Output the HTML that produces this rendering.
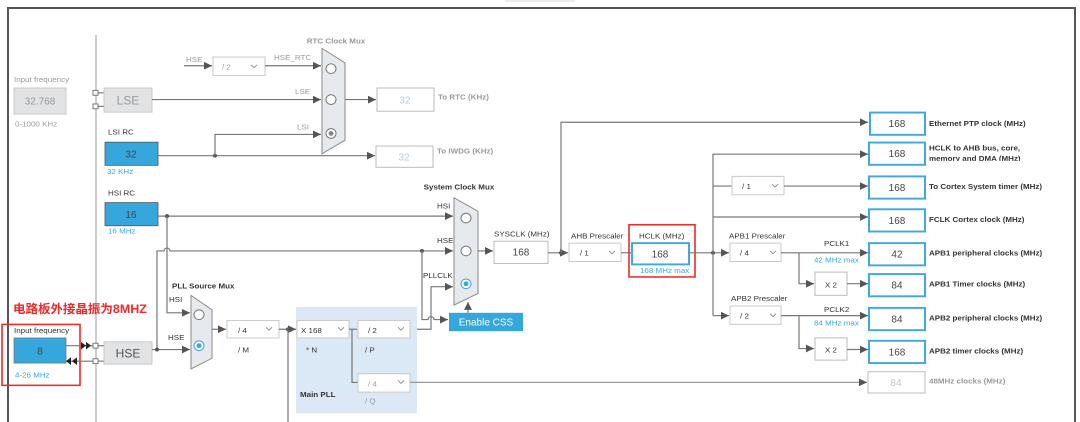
<!DOCTYPE html>
<html><head><meta charset="utf-8"><style>
html,body{margin:0;padding:0;background:#fff;}
svg{display:block;font-family:"Liberation Sans","Noto Sans CJK SC",sans-serif;}
.t{font-size:8px;fill:#333;}
.b{font-size:8px;fill:#333;font-weight:bold;}
.g{font-size:8px;fill:#999;}
.gb{font-size:8px;fill:#999;font-weight:bold;}
.bl{font-size:8px;fill:#3aa6dd;}
.v{font-size:10px;fill:#444;text-anchor:middle;}
.vf{font-size:10px;fill:#b8c8d8;text-anchor:middle;}
.l{stroke:#777;stroke-width:1.2;fill:none;}
.box{fill:#fff;stroke:#bbb;stroke-width:1;}
.ob{fill:#fff;stroke:#3fa9dd;stroke-width:2;}
.dd{fill:#fff;stroke:#c8c8c8;stroke-width:1;}
.mux{fill:#e6eaee;stroke:#888;stroke-width:1;}
.c{fill:#fff;stroke:#777;stroke-width:1;}
.ch{fill:none;stroke:#888;stroke-width:0.9;}
</style></head><body>
<svg width="1080" height="422" viewBox="0 0 1080 422" xmlns="http://www.w3.org/2000/svg">
<defs>
<marker id="a" markerWidth="8" markerHeight="8" refX="8" refY="4" orient="auto" markerUnits="userSpaceOnUse"><path d="M0,0 L8,4 L0,8 z" fill="#555"/></marker>
</defs>
<rect x="505" y="0" width="70" height="2" fill="#e8ecef"/>
<path d="M8,422 L8,8 L1075,8 L1075,422" fill="none" stroke="#555" stroke-width="2"/>
<line x1="96" y1="35" x2="96" y2="422" stroke="#999" stroke-width="1"/>

<g transform="matrix(1,0,0,0.967,0,0)">
<text class="gb" x="336" y="45" text-anchor="middle">RTC Clock Mux</text>
<text class="g" x="186" y="64">HSE</text>
<line class="l" x1="184" y1="68" x2="212" y2="68" marker-end="url(#a)"/>
<rect class="dd" x="213" y="59" width="52" height="19"/>
<text class="g" x="222" y="72" font-size="10">/ 2</text>
<path class="ch" d="M251,67 l3,3 l3,-3"/>
<text class="g" x="274" y="62">HSE_RTC</text>
<line class="l" x1="265" y1="68" x2="321" y2="68" marker-end="url(#a)"/>
<polygon class="mux" points="322,50 345,65 345,145 322,159"/>
<circle class="c" cx="331" cy="71" r="5"/><circle class="c" cx="331" cy="103" r="5"/><circle class="c" cx="331" cy="138" r="5"/><circle cx="331" cy="138" r="2.5" fill="#888"/>
<text class="g" x="14" y="85">Input frequency</text>
<rect x="14" y="91" width="52" height="27" fill="#e1e3e5" stroke="#c8c8c8"/>
<text class="v" x="40" y="108" style="fill:#999">32.768</text>
<text class="g" x="15" y="131">0-1000 KHz</text>
<rect x="93" y="93.5" width="5" height="5" fill="#fff" stroke="#777"/>
<rect x="93" y="107.5" width="5" height="5" fill="#fff" stroke="#777"/>
<line class="l" x1="98" y1="96" x2="104" y2="96"/><line class="l" x1="98" y1="110" x2="104" y2="110"/>
<rect x="104" y="91" width="48" height="25" fill="#e1e3e5" stroke="#c8c8c8"/>
<text x="128" y="108" font-size="12" fill="#999" text-anchor="middle">LSE</text>
<line class="l" x1="152" y1="103" x2="321" y2="103" marker-end="url(#a)"/>
<text class="g" x="295" y="97">LSE</text>
<line class="l" x1="345" y1="103" x2="376" y2="103" marker-end="url(#a)"/>
<rect class="box" x="377" y="91" width="57" height="24"/>
<text class="vf" x="405" y="107">32</text>
<text class="gb" x="438" y="103">To RTC (KHz)</text>
<text class="t" x="108" y="139">LSI RC</text>
<rect x="105" y="147" width="53" height="24" fill="#35a7dc" stroke="#555" stroke-width="0.8"/>
<text class="v" x="131" y="163">32</text>
<text class="bl" x="107" y="180">32 KHz</text>
<line class="l" x1="158" y1="161" x2="375" y2="161" marker-end="url(#a)"/>
<circle cx="215" cy="161" r="2" fill="#555"/>
<path class="l" d="M215,161 L215,139 L321,139" marker-end="url(#a)"/>
<text class="g" x="297" y="134">LSI</text>
<rect class="box" x="376" y="151" width="57" height="22"/>
<text class="vf" x="404" y="166">32</text>
<text class="gb" x="437" y="159">To IWDG (KHz)</text>
<text class="b" x="459" y="196" text-anchor="middle">System Clock Mux</text>
<text class="t" x="108" y="202">HSI RC</text>
</g>

<g transform="matrix(1,0,0,0.967,0,6.27)">
<rect x="105" y="203" width="53" height="24" fill="#35a7dc" stroke="#555" stroke-width="0.8"/>
<text class="v" x="131" y="219">16</text>
<text class="bl" x="108" y="235">16 MHz</text>
<line class="l" x1="158" y1="217" x2="453" y2="217" marker-end="url(#a)"/>
<circle cx="167" cy="217" r="2" fill="#555"/>
<text class="t" x="437" y="209">HSI</text>
<path class="l" d="M167,217 L167,317 L190,317" marker-end="url(#a)"/>
<text class="t" x="169" y="306">HSI</text>
<path class="l" d="M157,355 L157,253 L164,253 A3,3 0 0 1 170,253 L453,253" marker-end="url(#a)"/>
<text class="t" x="437" y="245">HSE</text>
<circle cx="422" cy="253" r="2" fill="#555"/>
<path class="l" d="M422,253 L422,324 L428,324 A3,3 0 0 1 434,324 L448,324" marker-end="url(#a)"/>
<path class="l" d="M410,334 L431,334 L431,290 L453,290" marker-end="url(#a)"/>
<text class="t" x="423" y="281">PLLCLK</text>
<polygon class="mux" points="454,198 478,212 478,297 454,309"/>
<circle class="c" cx="466" cy="219" r="5"/><circle class="c" cx="466" cy="253" r="5"/>
<circle cx="466" cy="287" r="5" fill="#fff" stroke="#3aa6dd"/><circle cx="466" cy="287" r="2.5" fill="#3aa6dd"/>
<rect x="449" y="317" width="74" height="19" fill="#35a7dc"/>
<text x="486" y="330" font-size="10" fill="#fff" text-anchor="middle">Enable CSS</text>
<line class="l" x1="468" y1="317" x2="468" y2="306" marker-end="url(#a)"/>
<line class="l" x1="478" y1="253" x2="493" y2="253" marker-end="url(#a)"/>
<text class="t" x="494" y="238">SYSCLK (MHz)</text>
<rect class="box" x="494" y="243" width="54" height="23"/>
<text class="v" x="521" y="258">168</text>

<text x="13" y="317" font-size="12.5" font-weight="bold" fill="#ee2a2a" font-family="'Liberation Sans','Noto Sans CJK SC',sans-serif">电路板外接晶振为8MHZ</text>
<rect x="2" y="329" width="78" height="63" fill="none" stroke="#ee2a2a" stroke-width="1.6"/>
<text class="t" x="14" y="338">Input frequency</text>
<rect x="14" y="343" width="52" height="26" fill="#35a7dc" stroke="#777" stroke-width="0.8"/>
<text class="v" x="40" y="360">8</text>
<text class="bl" x="15" y="384">4-26 MHz</text>
<line class="l" x1="66" y1="351" x2="93" y2="351"/>
<path d="M81,347 l5,4 l-5,4z M86,347 l5,4 l-5,4z" fill="#222"/>
<line class="l" x1="66" y1="367" x2="93" y2="367"/>
<path d="M71,363 l-5,4 l5,4z M77,363 l-5,4 l5,4z" fill="#222"/>
<rect x="93" y="348.5" width="5" height="5" fill="#fff" stroke="#777"/>
<rect x="93" y="364.5" width="5" height="5" fill="#fff" stroke="#777"/>
<line class="l" x1="98" y1="351" x2="104" y2="351"/><line class="l" x1="98" y1="367" x2="104" y2="367"/>
<rect x="104" y="347" width="48" height="23" fill="#e1e3e5" stroke="#c8c8c8"/>
<text x="128" y="363" font-size="12" fill="#555" text-anchor="middle">HSE</text>
<line class="l" x1="152" y1="355" x2="190" y2="355" marker-end="url(#a)"/>
<circle cx="157" cy="355" r="2" fill="#555"/>
<text class="t" x="168" y="345">HSE</text>
<text class="b" x="172" y="292">PLL Source Mux</text>
<polygon class="mux" points="191,299 212,314 212,364 191,375"/>
<circle class="c" cx="199" cy="319" r="5"/>
<circle cx="199" cy="351" r="5" fill="#fff" stroke="#3aa6dd"/><circle cx="199" cy="351" r="2.5" fill="#3aa6dd"/>
<line class="l" x1="212" y1="334" x2="226" y2="334" marker-end="url(#a)"/>
<rect x="296" y="311" width="121" height="110" fill="#dbe8f5"/>
<rect class="dd" x="227" y="325" width="52" height="18"/>
<text class="t" x="238" y="338" font-size="10">/ 4</text><path class="ch" d="M266,332 l3,3 l3,-3"/>
<text class="t" x="238" y="358">/ M</text>
<line class="l" x1="279" y1="334" x2="296" y2="334" marker-end="url(#a)"/>
<circle cx="288" cy="334" r="2" fill="#555"/>
<line class="l" x1="288" y1="334" x2="288" y2="430"/>
<rect class="dd" x="297" y="325" width="52" height="18"/>
<text class="t" x="301" y="338" font-size="10">X 168</text><path class="ch" d="M338,332 l3,3 l3,-3"/>
<text class="t" x="306" y="358">* N</text>
<line class="l" x1="349" y1="334" x2="357" y2="334"/>
<rect class="dd" x="358" y="325" width="52" height="18"/>
<text class="t" x="368" y="338" font-size="10">/ 2</text><path class="ch" d="M398,332 l3,3 l3,-3"/>
<text class="t" x="365" y="358">/ P</text>
<path class="l" d="M352,334 L352,389 L358,389"/>
<rect class="dd" x="358" y="380" width="52" height="19"/>
<text class="g" x="368" y="393" font-size="10">/ 4</text><path class="ch" d="M398,387 l3,3 l3,-3"/>
<text class="g" x="365" y="411">/ Q</text>
<text class="b" x="300" y="404">Main PLL</text>
</g>

<g transform="matrix(1,0,0,0.967,0,3.3)">
<line class="l" x1="410" y1="392" x2="867" y2="392" marker-end="url(#a)" style="stroke:#999"/>
<rect class="box" x="868" y="381" width="57" height="22"/>
<text class="vf" x="896" y="396">84</text>
<text class="gb" x="929" y="393">48MHz clocks (MHz)</text>
<line class="l" x1="548" y1="258" x2="568" y2="258" marker-end="url(#a)"/>
<circle cx="561" cy="258" r="2" fill="#555"/>
<path class="l" d="M561,258 L561,123 L868,123" marker-end="url(#a)"/>
<text class="t" x="571" y="243">AHB Prescaler</text>
<rect class="dd" x="569" y="248" width="52" height="19"/>
<text class="t" x="580" y="261" font-size="10">/ 1</text><path class="ch" d="M609,256 l3,3 l3,-3"/>
<line class="l" x1="621" y1="258" x2="632" y2="258"/>
<rect x="629" y="229" width="66" height="54" fill="none" stroke="#ee2a2a" stroke-width="1.6"/>
<text class="t" x="639" y="243">HCLK (MHz)</text>
<rect class="ob" x="632" y="248" width="57" height="22"/>
<text class="v" x="660" y="263">168</text>
<text class="bl" x="640" y="279">168 MHz max</text>
<line class="l" x1="689" y1="258" x2="729" y2="258" marker-end="url(#a)"/>
<circle cx="713" cy="258" r="2" fill="#555"/>
<path class="l" d="M713,323 L713,156 L868,156" marker-end="url(#a)"/>
<line class="l" x1="713" y1="189" x2="732" y2="189"/>
<rect class="dd" x="732" y="179" width="52" height="19"/>
<text class="t" x="742" y="192" font-size="10">/ 1</text><path class="ch" d="M772,187 l3,3 l3,-3"/>
<line class="l" x1="784" y1="189" x2="868" y2="189" marker-end="url(#a)"/>
<line class="l" x1="713" y1="221" x2="868" y2="221" marker-end="url(#a)"/>
<line class="l" x1="713" y1="323" x2="729" y2="323" marker-end="url(#a)"/>
<text class="t" x="729" y="243">APB1 Prescaler</text>
<rect class="dd" x="730" y="248" width="51" height="19"/>
<text class="t" x="740" y="261" font-size="10">/ 4</text><path class="ch" d="M770,256 l3,3 l3,-3"/>
<line class="l" x1="781" y1="258" x2="868" y2="258" marker-end="url(#a)"/>
<text class="t" x="824" y="251">PCLK1</text>
<text class="bl" x="814" y="268">42 MHz max</text>
<path class="l" d="M799,258 L799,290 L814,290" marker-end="url(#a)"/>
<rect class="box" x="815" y="278" width="32" height="24"/>
<text class="t" x="831" y="294" font-size="10" text-anchor="middle">X 2</text>
<line class="l" x1="847" y1="290" x2="868" y2="290" marker-end="url(#a)"/>
<text class="t" x="731" y="308">APB2 Prescaler</text>
<rect class="dd" x="730" y="313" width="51" height="19"/>
<text class="t" x="740" y="326" font-size="10">/ 2</text><path class="ch" d="M770,321 l3,3 l3,-3"/>
<line class="l" x1="781" y1="323" x2="868" y2="323" marker-end="url(#a)"/>
<text class="t" x="824" y="319">PCLK2</text>
<text class="bl" x="814" y="333">84 MHz max</text>
<path class="l" d="M799,323 L799,357 L814,357" marker-end="url(#a)"/>
<rect class="box" x="815" y="346" width="32" height="23"/>
<text class="t" x="831" y="361" font-size="10" text-anchor="middle">X 2</text>
<line class="l" x1="847" y1="358" x2="868" y2="358" marker-end="url(#a)"/>

<rect class="ob" x="870" y="113" width="55" height="23"/><text class="v" x="897" y="128">168</text>
<text class="b" x="929" y="127">Ethernet PTP clock (MHz)</text>
<rect class="ob" x="869" y="144" width="56" height="23"/><text class="v" x="897" y="159">168</text>
<text class="b" x="929" y="152">HCLK to AHB bus, core,</text>
<svg x="929" y="155" width="120" height="8" overflow="hidden"><text class="b" x="0" y="8">memory and DMA (MHz)</text></svg>
<rect class="ob" x="869" y="179" width="56" height="23"/><text class="v" x="897" y="194">168</text>
<text class="b" x="929" y="192">To Cortex System timer (MHz)</text>
<rect class="ob" x="869" y="213" width="56" height="23"/><text class="v" x="897" y="228">168</text>
<text class="b" x="929" y="226">FCLK Cortex clock (MHz)</text>
<rect class="ob" x="869" y="248" width="56" height="23"/><text class="v" x="897" y="263">42</text>
<text class="b" x="929" y="261">APB1 peripheral clocks (MHz)</text>
<rect class="ob" x="869" y="280" width="56" height="23"/><text class="v" x="897" y="295">84</text>
<text class="b" x="929" y="293">APB1 Timer clocks (MHz)</text>
<rect class="ob" x="869" y="315" width="56" height="23"/><text class="v" x="897" y="330">84</text>
<text class="b" x="929" y="328">APB2 peripheral clocks (MHz)</text>
<rect class="ob" x="869" y="349" width="56" height="23"/><text class="v" x="897" y="364">168</text>
<text class="b" x="929" y="362">APB2 timer clocks (MHz)</text>
</g>
</svg>
</body></html>
